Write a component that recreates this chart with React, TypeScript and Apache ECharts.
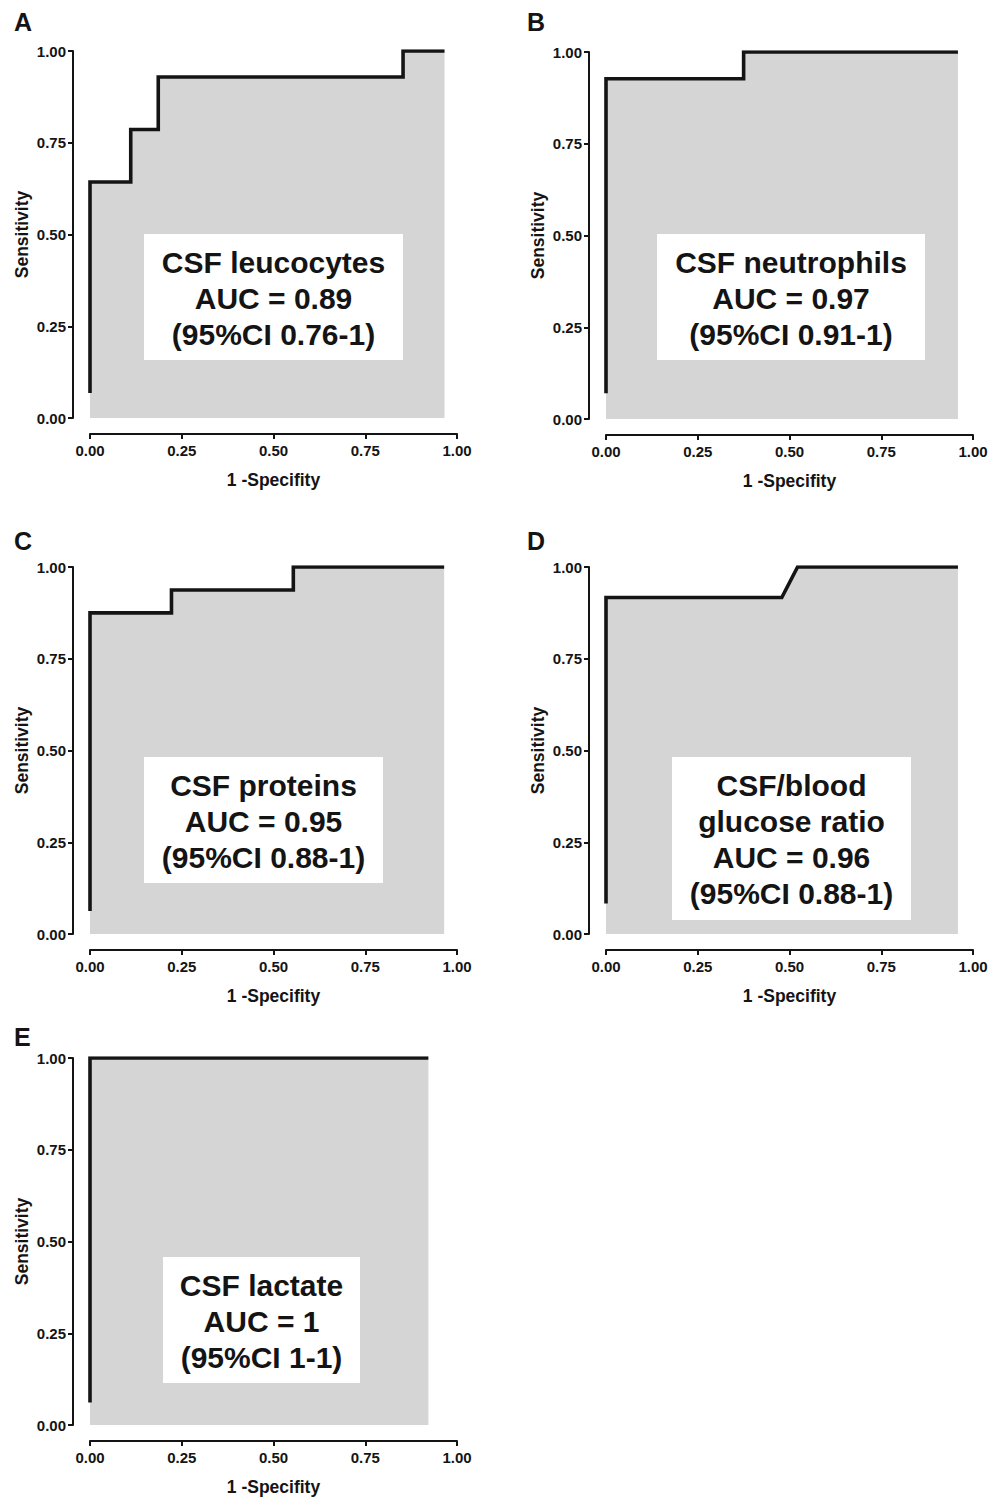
import React, { useEffect, useRef } from "react";
import * as echarts from "echarts";

// ROC curve data (1 - specificity, sensitivity)
const fprA = [0, 0, 0.111, 0.111, 0.186, 0.186, 0.853, 0.853, 0.966];
const tprA = [0.068, 0.643, 0.643, 0.786, 0.786, 0.929, 0.929, 1, 1];
const fprB = [0, 0, 0.375, 0.375, 0.959];
const tprB = [0.07, 0.927, 0.927, 1, 1];
const fprC = [0, 0, 0.222, 0.222, 0.554, 0.554, 0.965];
const tprC = [0.0625, 0.875, 0.875, 0.9375, 0.9375, 1, 1];
const fprD = [0, 0, 0.479, 0.522, 0.959];
const tprD = [0.083, 0.917, 0.917, 1, 1];
const fprE = [0, 0, 0.922];
const tprE = [0.061, 1, 1];

const panelLetters = ["A", "B", "C", "D", "E"];
const panelTexts = [
  "CSF leucocytes\nAUC = 0.89\n(95%CI 0.76-1)",
  "CSF neutrophils\nAUC = 0.97\n(95%CI 0.91-1)",
  "CSF proteins\nAUC = 0.95\n(95%CI 0.88-1)",
  "CSF/blood\nglucose ratio\nAUC = 0.96\n(95%CI 0.88-1)",
  "CSF lactate\nAUC = 1\n(95%CI 1-1)",
];
const xTitle = "1 -Specifity";
const yTitle = "Sensitivity";

const curves = [
  [fprA, tprA],
  [fprB, tprB],
  [fprC, tprC],
  [fprD, tprD],
  [fprE, tprE],
];

// layout (pixels)
const grids = [
  { left: 90, top: 51, width: 367, height: 367 },
  { left: 606, top: 52, width: 367, height: 367 },
  { left: 90, top: 567, width: 367, height: 367 },
  { left: 606, top: 567, width: 367, height: 367 },
  { left: 90, top: 1058, width: 367, height: 367 },
];
const letterPos = [
  [14, 21.5],
  [527, 21.5],
  [14, 541],
  [527, 541],
  [14, 1036.5],
];
const boxes = [
  { x: 144, y: 234, w: 259, h: 126 },
  { x: 657, y: 234, w: 268, h: 126 },
  { x: 144, y: 757, w: 239, h: 126 },
  { x: 672, y: 757, w: 239, h: 163 },
  { x: 163, y: 1257, w: 197, h: 126 },
];

const FONT = "'Liberation Sans', Arial, Helvetica, sans-serif";
const INK = "#141414";
const FILL = "#d4d5d4";

export default function App() {
  const ref = useRef<HTMLDivElement>(null);
  useEffect(() => {
    if (!ref.current) return;
    const chart = echarts.init(ref.current, null, { renderer: "svg" });
    const axisCommon = {
      type: "value",
      min: 0,
      max: 1,
      interval: 0.25,
      splitLine: { show: false },
      axisLine: { show: true, onZero: false, lineStyle: { color: INK, width: 2 } },
      axisTick: { show: true, length: 5, lineStyle: { color: INK, width: 2 } },
      axisLabel: {
        show: true,
        color: INK,
        fontSize: 15,
        fontWeight: "bold",
        fontFamily: FONT,
        formatter: (v: number) => v.toFixed(2),
      },
      nameLocation: "middle",
      nameTextStyle: { color: INK, fontSize: 17.5, fontWeight: "bold", fontFamily: FONT },
    };
    const option: any = {
      animation: false,
      backgroundColor: "#ffffff",
      grid: grids.map((g) => ({ ...g, containLabel: false, outerBoundsMode: "none" })),
      xAxis: grids.map((_, i) => ({
        ...axisCommon,
        gridIndex: i,
        position: "bottom",
        offset: 16,
        name: xTitle,
        nameGap: 37,
        axisLabel: { ...axisCommon.axisLabel, margin: 9 },
      })),
      yAxis: grids.map((_, i) => ({
        ...axisCommon,
        gridIndex: i,
        position: "left",
        offset: 17,
        name: yTitle,
        nameGap: 42,
        axisLabel: { ...axisCommon.axisLabel, margin: 7 },
      })),
      series: curves.map(([xs, ys], i) => ({
        type: "line",
        xAxisIndex: i,
        yAxisIndex: i,
        data: xs.map((x, k) => [x, ys[k]]),
        showSymbol: false,
        symbol: "none",
        lineStyle: { color: INK, width: 3.6, join: "miter", cap: "butt" },
        areaStyle: { color: FILL, opacity: 1, origin: "start" },
        z: 2,
      })),
      graphic: [
        ...panelLetters.map((l, i) => ({
          type: "text",
          x: letterPos[i][0],
          y: letterPos[i][1],
          z: 100,
          style: {
            text: l,
            fontSize: 25,
            fontWeight: "bold",
            fontFamily: FONT,
            fill: INK,
            align: "left",
            verticalAlign: "middle",
          },
        })),
        ...boxes.map((b) => ({
          type: "rect",
          z: 100,
          shape: { x: b.x, y: b.y, width: b.w, height: b.h },
          style: { fill: "#ffffff" },
        })),
        ...boxes.map((b, i) => ({
          type: "text",
          z: 101,
          x: b.x + b.w / 2,
          y: b.y + b.h / 2 + 1,
          style: {
            text: panelTexts[i],
            fontSize: 30,
            fontWeight: "bold",
            fontFamily: FONT,
            fill: INK,
            align: "center",
            verticalAlign: "middle",
            lineHeight: 36,
          },
        })),
      ],
    };
    chart.setOption(option);
    return () => chart.dispose();
  }, []);
  return (
    <div
      ref={ref}
      style={{ position: "absolute", left: 0, top: 0, width: 998, height: 1498 }}
    />
  );
}
